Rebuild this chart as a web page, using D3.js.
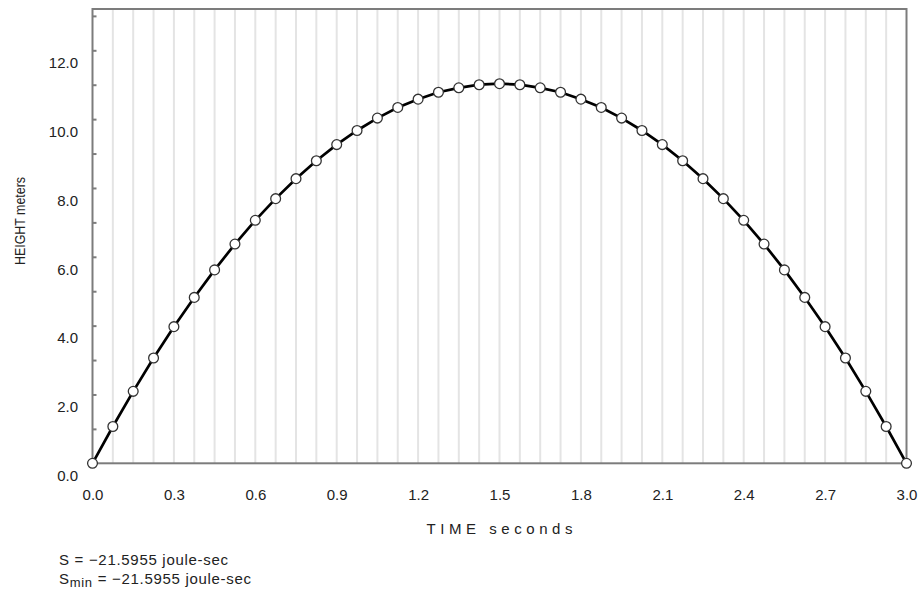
<!DOCTYPE html>
<html>
<head>
<meta charset="utf-8">
<style>
    body { margin: 0; background: white; }
    text { font-family: "Liberation Sans", Arial, sans-serif; fill: #222; }
    .grid line { stroke: #e4e4e4; stroke-width: 2px; }
    .frame { fill: none; stroke: #7c7c7c; stroke-width: 2px; }
</style>
<script src="https://d3js.org/d3.v7.min.js"></script>
</head>
<body>
<script>

    // sample times (s) and heights (m)
    var times = [0, 0.075, 0.15, 0.225, 0.3, 0.375, 0.45, 0.525, 0.6, 0.675, 0.75,
                 0.825, 0.9, 0.975, 1.05, 1.125, 1.2, 1.275, 1.35, 1.425, 1.5,
                 1.575, 1.65, 1.725, 1.8, 1.875, 1.95, 2.025, 2.1, 2.175, 2.25,
                 2.325, 2.4, 2.475, 2.55, 2.625, 2.7, 2.775, 2.85, 2.925, 3.0];
    var heights = [0, 1.07, 2.09, 3.06, 3.97, 4.82, 5.62, 6.37, 7.06, 7.69, 8.27,
                   8.79, 9.26, 9.67, 10.03, 10.34, 10.58, 10.78, 10.91, 11.00, 11.03,
                   11.00, 10.91, 10.78, 10.58, 10.34, 10.03, 9.67, 9.26, 8.79, 8.27,
                   7.69, 7.06, 6.37, 5.62, 4.82, 3.97, 3.06, 2.09, 1.07, 0];

    var xTickValues = [0, 0.3, 0.6, 0.9, 1.2, 1.5, 1.8, 2.1, 2.4, 2.7, 3.0];
    var yLabelValues = [0, 2, 4, 6, 8, 10, 12];
    var yTickValues = [0, 1, 2, 3, 4, 5, 6, 7, 8, 9, 10, 11, 12, 13];

    var xTitle = "TIME seconds", yTitle = "HEIGHT meters";
    var actionText = "S = \u221221.5955 joule-sec";
    var actionMinText = " = \u221221.5955 joule-sec";

    var width = 922, height = 596;
    var plotL = 92.5, plotR = 906.5, plotT = 9, plotB = 463.3;

    var x = d3.scaleLinear().domain([0, 3]).range([plotL, plotR]);
    var y = d3.scaleLinear().domain([0, 13.2]).range([plotB, plotT]);

    var svg = d3.select("body").append("svg")
        .attr("width", width)
        .attr("height", height);

    var pts = times.map(function(t, i) { return [t, heights[i]]; });

    // vertical grid at each sample time
    svg.append("g").attr("class", "grid")
      .selectAll("line")
      .data(times.slice(1, times.length - 1))
      .enter().append("line")
      .attr("x1", function(d) { return x(d); })
      .attr("x2", function(d) { return x(d); })
      .attr("y1", plotT)
      .attr("y2", plotB);

    // frame
    svg.append("rect").attr("class", "frame")
      .attr("x", plotL).attr("y", plotT)
      .attr("width", plotR - plotL).attr("height", plotB - plotT);

    // inward ticks on the left side
    var yAxis = d3.axisLeft(y).tickValues(yTickValues).tickSize(-4).tickFormat("");
    var gy = svg.append("g").attr("transform", "translate(" + plotL + ",0)").call(yAxis);
    gy.select(".domain").remove();
    gy.selectAll(".tick line").attr("stroke", "#7c7c7c").attr("stroke-width", 2);

    // y labels sit a little below their tick
    svg.append("g").selectAll("text")
      .data(yLabelValues)
      .enter().append("text")
      .attr("x", 78)
      .attr("y", function(d) { return y(d) + 12.5; })
      .attr("dy", "0.35em")
      .attr("text-anchor", "end")
      .style("font-size", "15px")
      .text(function(d) { return d3.format(".1f")(d); });

    // x labels
    var xAxis = d3.axisBottom(x).tickValues(xTickValues).tickSize(0).tickPadding(26)
        .tickFormat(d3.format(".1f"));
    var gx = svg.append("g").attr("transform", "translate(0," + plotB + ")").call(xAxis);
    gx.select(".domain").remove();
    gx.selectAll("text").style("font-size", "15px").attr("fill", "#222");
    gx.attr("font-family", null);

    // curve
    svg.append("path")
      .datum(pts)
      .attr("d", d3.line().x(function(d) { return x(d[0]); }).y(function(d) { return y(d[1]); }))
      .attr("fill", "none")
      .attr("stroke", "#000")
      .attr("stroke-width", 2.7);

    svg.append("g").selectAll("circle")
      .data(pts)
      .enter().append("circle")
      .attr("cx", function(d) { return x(d[0]); })
      .attr("cy", function(d) { return y(d[1]); })
      .attr("r", 4.9)
      .attr("fill", "white")
      .attr("stroke", "#333")
      .attr("stroke-width", 1.3);

    // axis titles
    svg.append("text")
      .attr("x", (plotL + plotR) / 2)
      .attr("y", 534)
      .attr("text-anchor", "middle")
      .attr("textLength", 146)
      .attr("lengthAdjust", "spacing")
      .style("font-size", "15px")
      .text(xTitle);

    svg.append("text")
      .attr("transform", "translate(24.5,221) rotate(-90)")
      .attr("text-anchor", "middle")
      .attr("textLength", 88)
      .attr("lengthAdjust", "spacingAndGlyphs")
      .style("font-size", "15px")
      .text(yTitle);

    // action values under the chart
    svg.append("text")
      .attr("x", 59).attr("y", 564.5)
      .style("font-size", "15px")
      .style("letter-spacing", "0.7px")
      .text(actionText);

    var smin = svg.append("text")
      .attr("x", 59).attr("y", 584)
      .style("font-size", "15px")
      .style("letter-spacing", "0.7px");
    smin.append("tspan").text("S");
    smin.append("tspan").attr("dy", 3).style("font-size", "13px").text("min");
    smin.append("tspan").attr("dy", -3).text(actionMinText);

</script>
</body>
</html>
